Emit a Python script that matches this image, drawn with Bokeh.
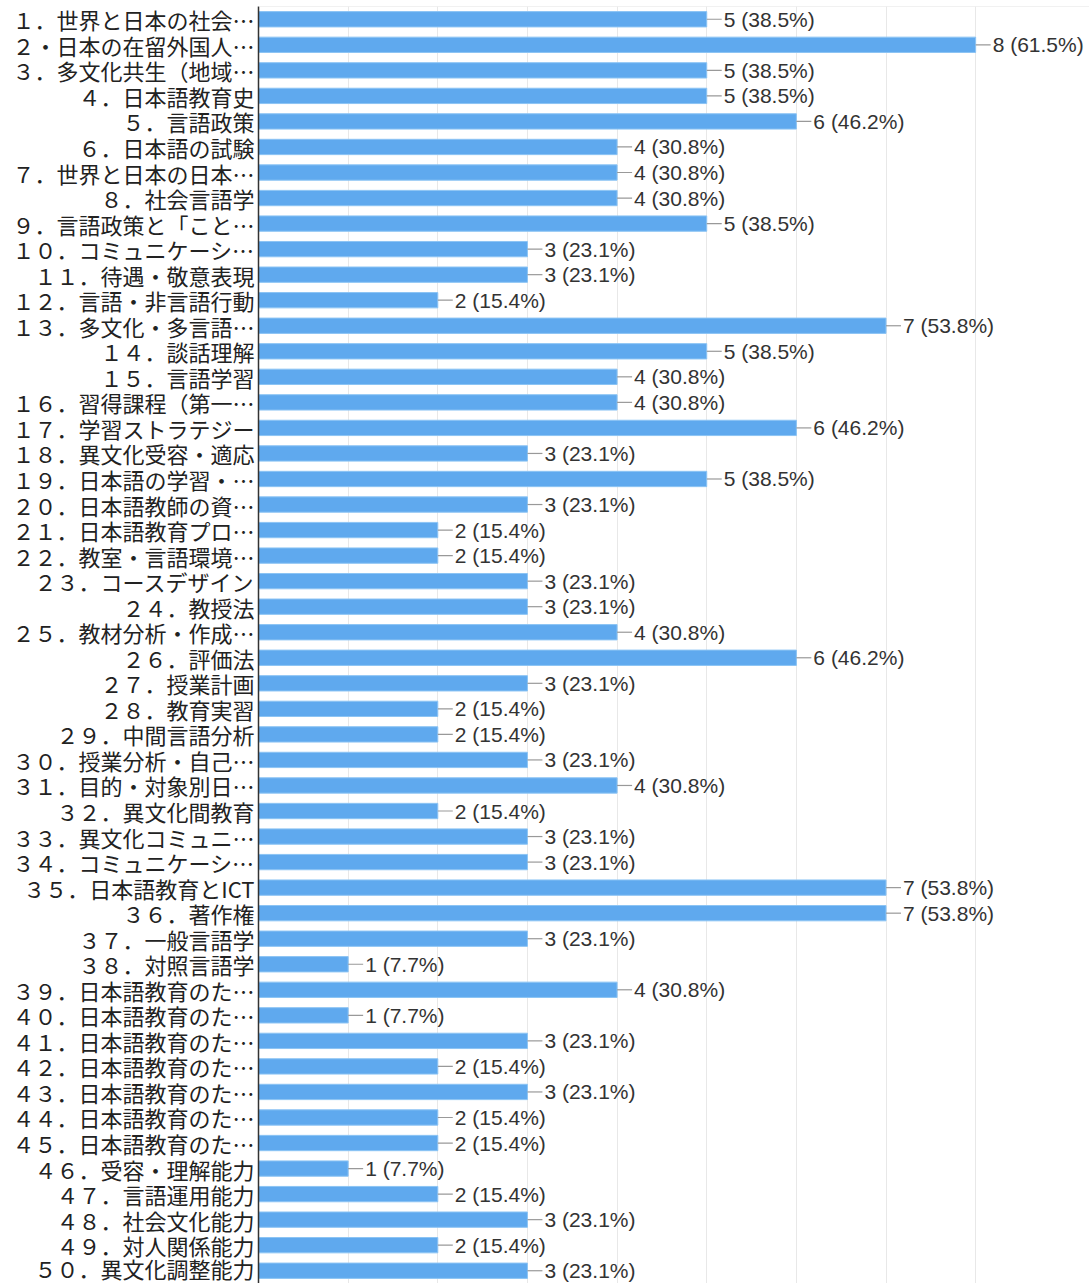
from bokeh.plotting import figure
from bokeh.models import ColumnDataSource, FactorRange, FixedTicker, Span
from bokeh.core.properties import value
from bokeh.embed import file_html
from bokeh.resources import INLINE

categories = [
    "１．世界と日本の社会…", "２・日本の在留外国人…", "３．多文化共生（地域…", "４．日本語教育史",
    "５．言語政策", "６．日本語の試験", "７．世界と日本の日本…", "８．社会言語学",
    "９．言語政策と「こと…", "１０．コミュニケーシ…", "１１．待遇・敬意表現", "１２．言語・非言語行動",
    "１３．多文化・多言語…", "１４．談話理解", "１５．言語学習", "１６．習得課程（第一…",
    "１７．学習ストラテジー", "１８．異文化受容・適応", "１９．日本語の学習・…", "２０．日本語教師の資…",
    "２１．日本語教育プロ…", "２２．教室・言語環境…", "２３．コースデザイン", "２４．教授法",
    "２５．教材分析・作成…", "２６．評価法", "２７．授業計画", "２８．教育実習",
    "２９．中間言語分析", "３０．授業分析・自己…", "３１．目的・対象別日…", "３２．異文化間教育",
    "３３．異文化コミュニ…", "３４．コミュニケーシ…", "３５．日本語教育とICT", "３６．著作権",
    "３７．一般言語学", "３８．対照言語学", "３９．日本語教育のた…", "４０．日本語教育のた…",
    "４１．日本語教育のた…", "４２．日本語教育のた…", "４３．日本語教育のた…", "４４．日本語教育のた…",
    "４５．日本語教育のた…", "４６．受容・理解能力", "４７．言語運用能力", "４８．社会文化能力",
    "４９．対人関係能力", "５０．異文化調整能力",
]
counts = [5, 8, 5, 5, 6, 4, 4, 4, 5, 3,
          3, 2, 7, 5, 4, 4, 6, 3, 5, 3,
          2, 2, 3, 3, 4, 6, 3, 2, 2, 3,
          4, 2, 3, 3, 7, 7, 3, 1, 4, 1,
          3, 2, 3, 2, 2, 1, 2, 3, 2, 3]
percents = ["38.5", "61.5", "38.5", "38.5", "46.2", "30.8", "30.8", "30.8", "38.5", "23.1",
            "23.1", "15.4", "53.8", "38.5", "30.8", "30.8", "46.2", "23.1", "38.5", "23.1",
            "15.4", "15.4", "23.1", "23.1", "30.8", "46.2", "23.1", "15.4", "15.4", "23.1",
            "30.8", "15.4", "23.1", "23.1", "53.8", "53.8", "23.1", "7.7", "30.8", "7.7",
            "23.1", "15.4", "23.1", "15.4", "15.4", "7.7", "15.4", "23.1", "15.4", "23.1"]
grid_ticks = [0, 1, 2, 3, 4, 5, 6, 7, 8]

labels = [f"{c} ({p}%)" for c, p in zip(counts, percents)]
src = ColumnDataSource(dict(cat=categories, n=counts, lab=labels))

p = figure(
    width=1089, height=1283,
    y_range=FactorRange(factors=list(reversed(categories)), range_padding=0),
    x_range=(0, 9.27),
    output_backend="svg", toolbar_location=None,
    min_border_left=258, min_border_right=0, min_border_top=6, min_border_bottom=0,
    x_axis_location=None,
)
p.outline_line_color = None
p.background_fill_color = "white"

p.hbar(y="cat", right="n", left=0, height=0.6, source=src,
       fill_color="#5fa9ee", line_color="#8cc4f4", line_width=1)
p.ray(x="n", y="cat", length=15, length_units="screen", angle=0, source=src,
      line_color="#999999", line_width=1.2)
p.text(x="n", y="cat", text="lab", source=src, x_offset=17,
       text_baseline="middle", text_align="left",
       text_font=value("Liberation Sans"), text_font_size="21px", text_color="#333333")

p.xgrid.ticker = FixedTicker(ticks=grid_ticks)
p.xgrid.grid_line_color = "#e8e8e8"
p.ygrid.grid_line_color = None
p.add_layout(Span(location=len(categories), dimension="width", line_color="#e4e4e4", line_width=1))

ax = p.yaxis[0]
ax.axis_line_color = "#333333"
ax.axis_line_width = 1.5
ax.major_tick_line_color = None
ax.minor_tick_line_color = None
ax.major_label_standoff = -2
ax.major_label_text_font = "Noto Sans CJK JP"
ax.major_label_text_font_size = "22px"
ax.major_label_text_color = "#222222"

open("out.html", "w").write(file_html(p, INLINE))
